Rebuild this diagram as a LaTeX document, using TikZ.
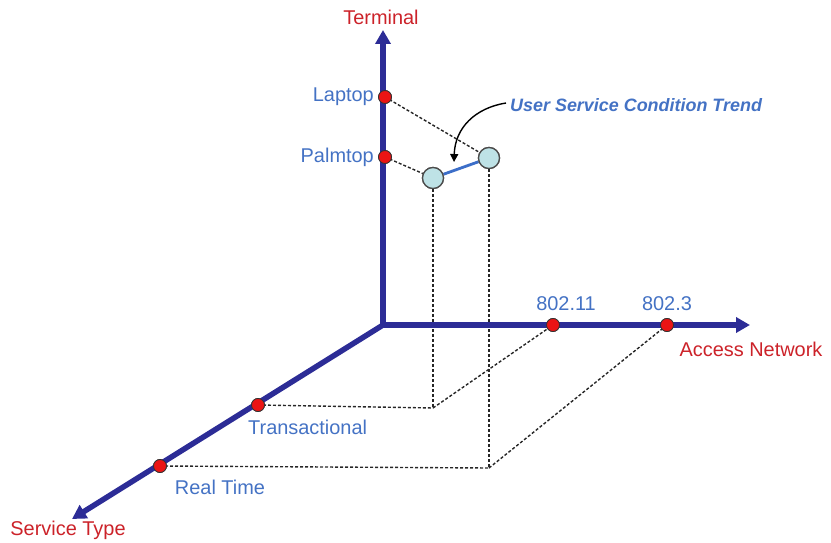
\documentclass[tikz,border=0pt]{standalone}
\usepackage{fontspec}
\setmainfont{Liberation Sans}
\usetikzlibrary{arrows.meta}
\definecolor{axisblue}{RGB}{44,44,150}
\definecolor{lblblue}{RGB}{68,114,196}
\definecolor{ttlred}{RGB}{204,34,41}
\definecolor{ptred}{RGB}{235,20,20}
\definecolor{trendfill}{RGB}{190,226,230}
\definecolor{trendline}{RGB}{60,110,200}
\tikzset{
  axisline/.style={draw=axisblue, line width=5.5bp, -{Triangle[width=15bp,length=14bp]}},
  tick/.style={circle, draw=black!80, fill=ptred, line width=0.8bp, minimum size=13bp, inner sep=0pt},
  trendpt/.style={circle, draw=black!70, fill=trendfill, line width=1.3bp, minimum size=21bp, inner sep=0pt},
  guide/.style={draw=black!85, line width=1.4bp, dash pattern=on 3bp off 2bp},
  lbl/.style={text=lblblue, font=\fontsize{20}{24}\selectfont, inner sep=1bp},
  ttl/.style={text=ttlred, font=\fontsize{20}{24}\selectfont, inner sep=1bp},
}
\begin{document}
\begin{tikzpicture}[x=1bp,y=-1bp]
\useasboundingbox (0,0) rectangle (831,543);
% axes
\coordinate (O) at (383,325);
\coordinate (Ttip) at (383,30);
\coordinate (Atip) at (750,325);
\coordinate (Stip) at (72,519);
% guide corner coordinates
\coordinate (C1) at (433,408);
\coordinate (C2) at (489,468);
% trend points
\node[trendpt] (A) at (433,178) {};
\node[trendpt] (B) at (489,158) {};
% ticks
\node[tick] (lap) at (385,97) {};
\node[tick] (pal) at (385,157) {};
\node[tick] (n11) at (553,325) {};
\node[tick] (n3) at (667,325) {};
\node[tick] (tr) at (258,405) {};
\node[tick] (rt) at (160,466) {};
% dashed guides
\draw[guide] (lap.center) -- (B);
\draw[guide] (pal.center) -- (A);
\draw[guide] (A) -- (C1);
\draw[guide] (B) -- (C2);
\draw[guide] (tr.center) -- (C1);
\draw[guide] (rt.center) -- (C2);
\draw[guide] (C1) -- (n11.center);
\draw[guide] (C2) -- (n3.center);
% axes drawn over guides
\draw[axisline] (O) -- (Ttip);
\draw[axisline] (O) -- (Atip);
\draw[axisline] (O) -- (Stip);
% redraw ticks on top
\foreach \p in {lap,pal,n11,n3,tr,rt}{\node[tick] at (\p) {};}
% trend line and points on top
\draw[trendline, line width=2.8bp] (A) -- (B);
\node[trendpt] at (A) {};
\node[trendpt] at (B) {};
% labels
\node[ttl] (tTerm) at (381,17) {Terminal};
\node[ttl] (tAcc) at (751,349) {Access Network};
\node[ttl] (tServ) at (68,530) {Service Type};
\node[lbl, anchor=east] (lLap) at (375,97) {Laptop};
\node[lbl, anchor=east] (lPal) at (375,157) {Palmtop};
\node[lbl] (l11) at (566,304) {802.11};
\node[lbl] (l3) at (667,304) {802.3};
\node[lbl, anchor=west] (lTr) at (247,427) {Transactional};
\node[lbl] (lRt) at (220,487) {Real Time};
\node[text=lblblue, font=\fontsize{18}{22}\selectfont\bfseries\itshape, anchor=west, inner sep=1bp] (trend) at (509,105) {User Service Condition Trend};
\draw[black, line width=1.4bp, -{Triangle[width=8bp,length=8bp]}] ([xshift=-3bp,yshift=2bp]trend.west) .. controls (475,108) and (455,128) .. (454,162);
\end{tikzpicture}
\end{document}
